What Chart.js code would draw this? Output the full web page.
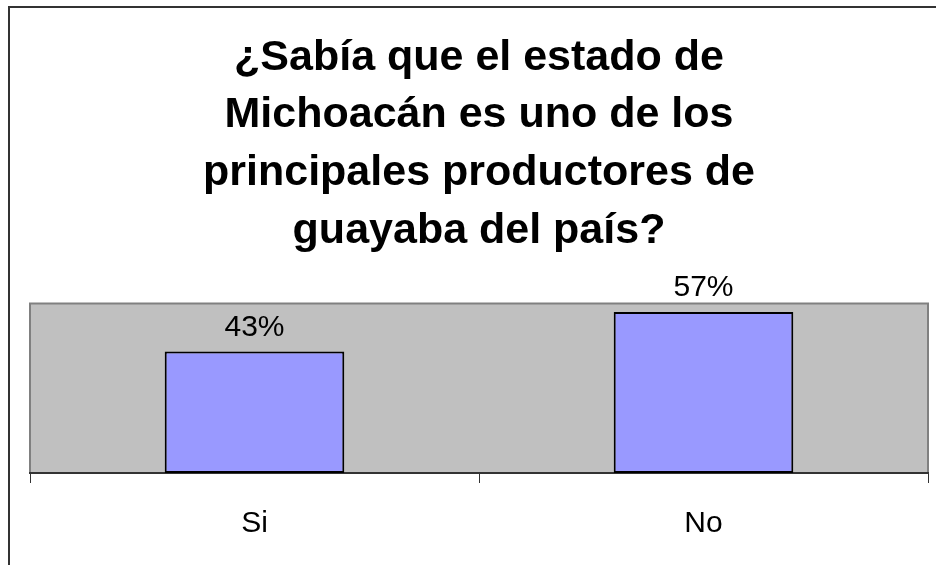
<!DOCTYPE html>
<html>
<head>
<meta charset="utf-8">
<script src="https://cdn.jsdelivr.net/npm/chart.js@4/dist/chart.umd.min.js"></script>
<style>
  html, body { margin: 0; padding: 0; background: #fff; }
  #wrap { width: 936px; height: 565px; }
</style>
</head>
<body>
<div id="wrap"><canvas id="chart" width="936" height="565"></canvas></div>
<script>
// data
let categories = ['Si', 'No'];
let values = [43, 57];
let titleLines = [
  '¿Sabía que el estado de',
  'Michoacán es uno de los',
  'principales productores de',
  'guayaba del país?'
];

const fontFamily = '"Liberation Sans", Arial, sans-serif';

// outer frame + grey plot area
const backdrop = {
  id: 'backdrop',
  beforeDraw(chart) {
    const ctx = chart.ctx;
    const a = chart.chartArea;
    ctx.save();
    ctx.strokeStyle = '#333';
    ctx.lineWidth = 2;
    ctx.beginPath();
    ctx.moveTo(9, 600);
    ctx.lineTo(9, 7);
    ctx.lineTo(940, 7);
    ctx.stroke();

    ctx.fillStyle = '#C0C0C0';
    ctx.fillRect(a.left, a.top, a.right - a.left, a.bottom - a.top);
    ctx.strokeStyle = '#808080';
    ctx.lineWidth = 2;
    ctx.beginPath();
    ctx.moveTo(a.left, a.bottom);
    ctx.lineTo(a.left, a.top);
    ctx.lineTo(a.right, a.top);
    ctx.lineTo(a.right, a.bottom);
    ctx.stroke();
    ctx.restore();
  }
};

// value labels above bars
const valueLabels = {
  id: 'valueLabels',
  afterDatasetsDraw(chart) {
    const ctx = chart.ctx;
    const meta = chart.getDatasetMeta(0);
    ctx.save();
    ctx.fillStyle = '#000';
    ctx.font = '30px ' + fontFamily;
    ctx.textAlign = 'center';
    ctx.textBaseline = 'alphabetic';
    meta.data.forEach((bar, i) => {
      ctx.fillText(values[i] + '%', bar.x, bar.y - 16);
    });
    ctx.restore();
  }
};

const data = {
  labels: categories,
  datasets: [
    {
      data: values,
      backgroundColor: '#9999FF',
      borderColor: '#000',
      borderWidth: 2,
      borderSkipped: false,
      barPercentage: 0.4,
      categoryPercentage: 1,
    },
  ]
};

const config = {
  type: 'bar',
  data: data,
  options: {
    responsive: false,
    animation: false,
    layout: {
      padding: { left: 30, right: 8, top: 29, bottom: 0 }
    },
    plugins: {
      legend: { display: false },
      tooltip: { enabled: false },
      title: {
        display: true,
        text: titleLines,
        color: '#000',
        font: { family: fontFamily, size: 43, weight: 'bold', lineHeight: 1.34 },
        padding: { top: 0, bottom: 44 }
      }
    },
    scales: {
      x: {
        grid: {
          offset: true,
          drawOnChartArea: false,
          drawTicks: true,
          tickLength: 10,
          color: '#333',
        },
        border: { display: true, color: '#333', width: 2 },
        ticks: {
          color: '#000',
          font: { family: fontFamily, size: 30 },
          padding: 23,
        },
        afterFit(scale) { scale.height = 92; }
      },
      y: {
        display: false,
        min: 0,
        max: 60,
      }
    }
  },
  plugins: [backdrop, valueLabels]
};

const chartInit = new Chart(document.getElementById('chart'), config);
</script>
</body>
</html>
